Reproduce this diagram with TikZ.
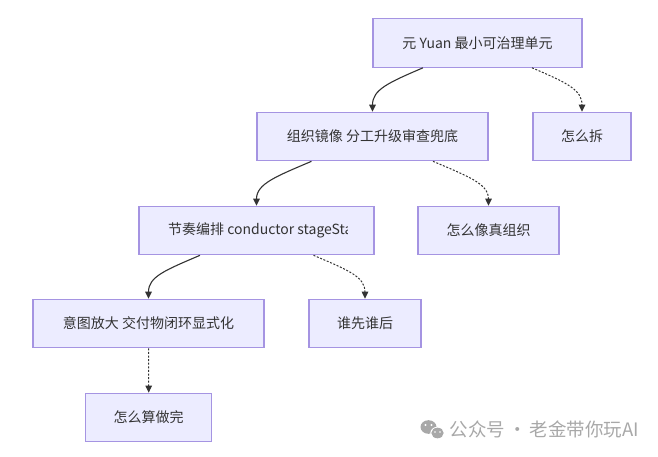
\documentclass[tikz,border=0pt]{standalone}
\usepackage{fontspec}
\setmainfont{Noto Sans CJK SC}
\usetikzlibrary{arrows.meta,calc}
\definecolor{nodefill}{HTML}{ECECFF}
\definecolor{nodeborder}{HTML}{A594E2}
\definecolor{txt}{HTML}{333333}
\definecolor{wm}{HTML}{A8A8A8}
\begin{document}
\begin{tikzpicture}[x=1pt,y=-1pt,
  box/.style={draw=nodeborder, fill=nodefill, line width=1.1pt, inner sep=0pt, text=txt,
    minimum height=48.5pt, font=\fontsize{14}{17}\selectfont},
  lbl/.style={inner sep=0pt, text=txt, font=\fontsize{14}{17}\selectfont},
  solidlink/.style={draw=txt, line width=1.1pt, -{Triangle[length=7pt,width=6.5pt]}},
  dotlink/.style={draw=txt, line width=1pt, dash pattern=on 2pt off 1.6pt, -{Triangle[length=7pt,width=6.5pt]}},
]
\useasboundingbox (0,0) rectangle (658,457);

% nodes
\node[box, minimum width=209pt] (yuan) at (477.5,43) {元 Yuan 最小可治理单元};
\node[box, minimum width=98pt] (chai) at (582,136.5) {怎么拆};
\node[box, minimum width=231pt] (zuzhi) at (372.5,136.5) {组织镜像 分工升级审查兜底};
\node[box, minimum width=235pt] (jiezou) at (256.5,230.5) {};
\node[box, minimum width=141pt] (zhen) at (488.5,230.5) {怎么像真组织};
\node[box, minimum width=231pt] (yitu) at (148.5,323.5) {意图放大 交付物闭环显式化};
\node[box, minimum width=112pt] (shui) at (365,323.5) {谁先谁后};
\node[box, minimum width=126pt] (done) at (148.7,417.5) {怎么算做完};

% clipped label of jiezou
\begin{scope}
  \clip (168,206) rectangle (347.3,255);
  \node[lbl, anchor=west] (jiezoulbl) at (168,230.5) {节奏编排 conductor stageStage};
\end{scope}

% connectors
\draw[solidlink] ($(yuan.south)+(-54.5,0)$) .. controls +(-35,15) and +(0,-22) .. (zuzhi.north);
\draw[dotlink]   ($(yuan.south)+(54.5,0)$) .. controls +(35,15) and +(0,-22) .. (chai.north);
\draw[solidlink] ($(zuzhi.south)+(-61,0)$) .. controls +(-35,15) and +(0,-22) .. (jiezou.north);
\draw[dotlink]   ($(zuzhi.south)+(60.5,0)$) .. controls +(35,15) and +(0,-22) .. (zhen.north);
\draw[solidlink] ($(jiezou.south)+(-56.5,0)$) .. controls +(-35,15) and +(0,-22) .. (yitu.north);
\draw[dotlink]   ($(jiezou.south)+(57,0)$) .. controls +(35,15) and +(0,-22) .. (shui.north);
\draw[dotlink]   (yitu.south) -- (done.north);

% watermark
\fill[wm] (428.5,427) ellipse [x radius=8, y radius=6.8];
\fill[white] (437.5,433) ellipse [x radius=7.2, y radius=6.2];
\fill[wm] (437.5,433) ellipse [x radius=6.2, y radius=5.3];
\fill[white] (425.5,425) circle (1.1) (431.5,425) circle (1.1);
\fill[white] (435,432) circle (0.9) (440,432) circle (0.9);
\node[inner sep=0pt, anchor=west, text=wm, font=\fontsize{18.5}{21}\selectfont] (wmtext) at (449.5,429.5) {公众号\,·\,老金带你玩AI};
\end{tikzpicture}
\end{document}
